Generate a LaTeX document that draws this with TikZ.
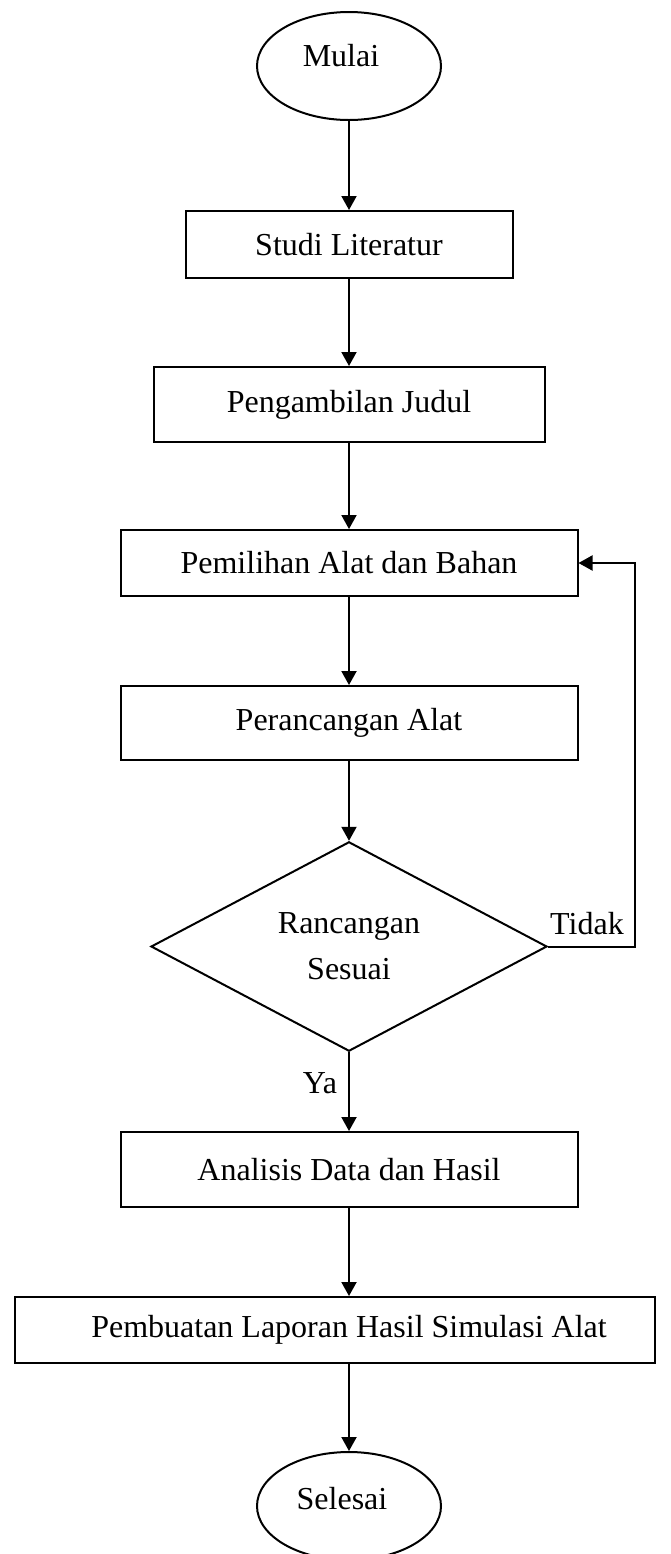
\documentclass[tikz,border=0pt]{standalone}
\usepackage{fontspec}
\setmainfont{Liberation Serif}
\usetikzlibrary{shapes.geometric,arrows.meta}
\tikzset{
  txt/.style={font=\fontsize{16pt}{23pt}\selectfont},
  stepbox/.style={draw, line width=1pt, rectangle, inner sep=0pt, txt},
  term/.style={draw, line width=1pt, ellipse, inner sep=0pt, minimum width=92pt, minimum height=54pt, txt},
  decide/.style={draw, line width=1pt, diamond, inner sep=0pt, align=center, txt},
  arr/.style={-{Triangle[width=7.5pt,length=7pt]}, line width=1pt}
}
\begin{document}
\begin{tikzpicture}[x=0.5pt,y=-0.5pt]
\useasboundingbox (0,0) rectangle (670,1554);
\clip (0,0) rectangle (670,1554);
\node[term, label={[txt,xshift=-4pt,yshift=5pt]center:Mulai}] (mulai) at (349,66) {};
\node[stepbox, minimum width=163.5pt, minimum height=33.5pt] (studi) at (349,244.5) {Studi Literatur};
\node[stepbox, minimum width=195.5pt, minimum height=37.5pt] (judul) at (349,404.5) {Pengambilan Judul};
\node[stepbox, minimum width=228.5pt, minimum height=33pt] (pilih) at (349,563) {Pemilihan Alat dan Bahan};
\node[stepbox, minimum width=228.5pt, minimum height=37pt] (rancang) at (349,723) {Perancangan Alat};
\node[decide, minimum width=198pt, minimum height=98.5pt] (sesuai) at (349,946.5) {Rancangan\\Sesuai};
\node[stepbox, minimum width=228.5pt, minimum height=37.5pt] (analisis) at (349,1169.5) {Analisis Data dan Hasil};
\node[stepbox, minimum width=320pt, minimum height=33pt, label={[txt,xshift=7pt]center:Pembuatan Laporan Hasil Simulasi Alat}] (laporan) at (335,1330) {};
\node[term, label={[txt,xshift=-3.5pt,yshift=3.5pt]center:Selesai}] (selesai) at (349,1506) {};
\node[txt] (tidak) at (587,924) {Tidak};
\node[txt] (ya) at (320,1083) {Ya};
\coordinate (fb) at (635,563);
\draw[arr] (mulai.south) -- (studi.north);
\draw[arr] (studi.south) -- (judul.north);
\draw[arr] (judul.south) -- (pilih.north);
\draw[arr] (pilih.south) -- (rancang.north);
\draw[arr] (rancang.south) -- (sesuai.north);
\draw[arr] (sesuai.south) -- (analisis.north);
\draw[arr] (analisis.south) -- (analisis.south |- laporan.north);
\draw[arr] (analisis.south |- laporan.south) -- (selesai.north);
\draw[arr] (sesuai.east) -| (fb) -- (pilih.east);
\end{tikzpicture}
\end{document}
